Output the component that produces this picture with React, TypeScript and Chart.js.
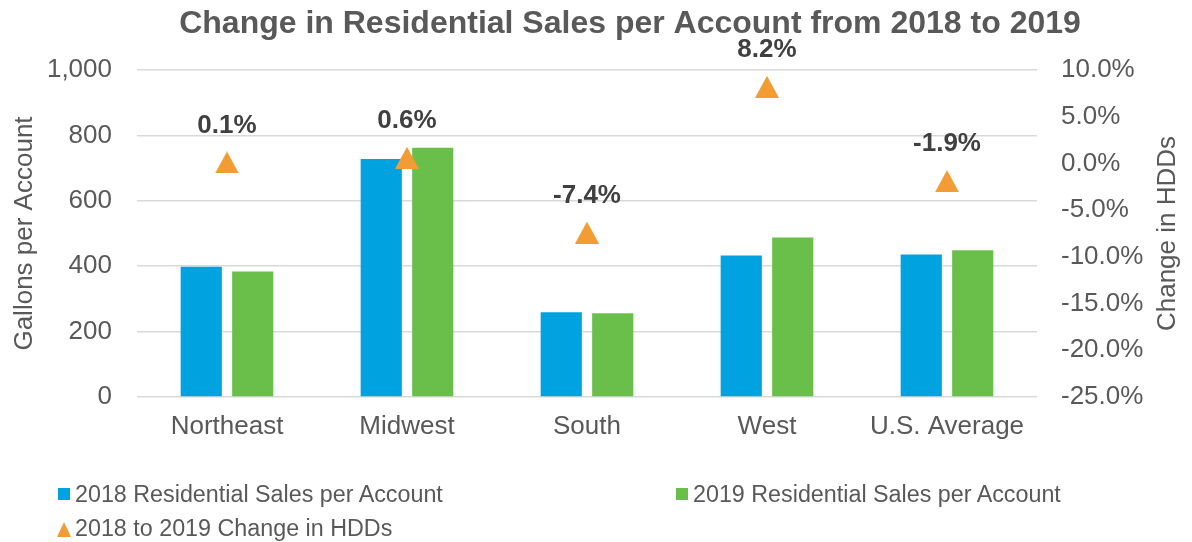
import React, { useEffect, useRef } from "react";
import { Chart, registerables } from "chart.js";

Chart.register(...registerables);

const chartTitle = "Change in Residential Sales per Account from 2018 to 2019";
const categories = ["Northeast", "Midwest", "South", "West", "U.S. Average"];
const sales2018 = [398, 728, 259, 433, 436];
const sales2019 = [384, 762, 256, 488, 449];
const hddChange = [0.1, 0.6, -7.4, 8.2, -1.9];
const seriesNames = [
  "2018 Residential Sales per Account",
  "2019 Residential Sales per Account",
  "2018 to 2019 Change in HDDs",
];
const leftAxisTitle = "Gallons per Account";
const rightAxisTitle = "Change in HDDs";

const BLUE = "#00A3E0";
const GREEN = "#6ABF4B";
const ORANGE = "#F39C34";
const TEXT = "#595959";
const FONT = "'Liberation Sans', Arial, sans-serif";

function makeTriangle(w: number, h: number): HTMLCanvasElement {
  const c = document.createElement("canvas");
  c.width = w;
  c.height = h;
  const ctx = c.getContext("2d")!;
  ctx.fillStyle = ORANGE;
  ctx.beginPath();
  ctx.moveTo(w / 2, 0);
  ctx.lineTo(w, h);
  ctx.lineTo(0, h);
  ctx.closePath();
  ctx.fill();
  return c;
}

const labelPlugin = {
  id: "triLabels",
  afterDatasetsDraw(chart: any) {
    const meta = chart.getDatasetMeta(2);
    const ctx = chart.ctx;
    const area = chart.chartArea;
    ctx.save();
    ctx.font = `bold 26px ${FONT}`;
    ctx.fillStyle = "#404040";
    ctx.textAlign = "center";
    ctx.textBaseline = "middle";
    meta.data.forEach((el: any, i: number) => {
      ctx.fillText(hddChange[i].toFixed(1) + "%", el.x, el.y - 37);
    });
    // chart title
    ctx.font = `bold 32px ${FONT}`;
    ctx.fillStyle = TEXT;
    ctx.fillText(chartTitle, 630, 24);
    // right axis title, reading bottom to top
    ctx.font = `26px ${FONT}`;
    ctx.translate(1168, (area.top + area.bottom) / 2);
    ctx.rotate(-Math.PI / 2);
    ctx.fillText(rightAxisTitle, 0, 0);
    ctx.restore();
  },
};

export default function App() {
  const ref = useRef<HTMLCanvasElement>(null);
  useEffect(() => {
    const tri = makeTriangle(24, 22);
    const chart = new Chart(ref.current!, {
      type: "bar",
      data: {
        labels: categories,
        datasets: [
          {
            type: "bar",
            label: seriesNames[0],
            data: sales2018,
            backgroundColor: BLUE,
            yAxisID: "y",
            categoryPercentage: 0.572,
            barPercentage: 0.8,
            order: 2,
          },
          {
            type: "bar",
            label: seriesNames[1],
            data: sales2019,
            backgroundColor: GREEN,
            yAxisID: "y",
            categoryPercentage: 0.572,
            barPercentage: 0.8,
            order: 2,
          },
          {
            type: "line",
            label: seriesNames[2],
            data: hddChange,
            yAxisID: "y2",
            showLine: false,
            pointStyle: tri as any,
            pointRadius: 12,
            backgroundColor: ORANGE,
            borderColor: ORANGE,
            order: 1,
          } as any,
        ],
      },
      options: {
        animation: false,
        responsive: false,
        maintainAspectRatio: false,
        layout: { padding: { left: 0, right: 0, top: 0, bottom: 95 } },
        plugins: {
          legend: { display: false },
          tooltip: { enabled: false },
          title: {
            display: true,
            text: "",
            color: TEXT,
            font: { family: FONT, size: 32, weight: "bold" },
            padding: { top: 5, bottom: 26.6 },
          },
        },
        scales: {
          x: {
            grid: { display: false, drawTicks: false },
            border: { display: false },
            ticks: { color: TEXT, font: { family: FONT, size: 26 }, padding: 14 },
            afterFit: (s: any) => {
              s.height = 50;
            },
          },
          y: {
            position: "left",
            min: 0,
            max: 1000,
            ticks: {
              stepSize: 200,
              color: TEXT,
              font: { family: FONT, size: 26 },
              padding: 25,
              callback: (v: any) => Number(v).toLocaleString("en-US"),
            },
            grid: { color: "#D9D9D9", lineWidth: 1.5, drawTicks: false },
            border: { display: false },
            title: {
              display: true,
              text: leftAxisTitle,
              color: TEXT,
              font: { family: FONT, size: 26 },
              padding: { top: 9, bottom: 0 },
            },
            afterFit: (s: any) => {
              s.width = 137;
            },
          },
          y2: {
            position: "right",
            min: -25,
            max: 10,
            ticks: {
              stepSize: 5,
              color: TEXT,
              font: { family: FONT, size: 26 },
              padding: 24,
              callback: (v: any) => Number(v).toFixed(1) + "%",
            },
            grid: { display: false, drawTicks: false },
            border: { display: false },
            title: { display: false },
            afterFit: (s: any) => {
              s.width = 155;
            },
          },
        },
      },
      plugins: [labelPlugin],
    });
    return () => chart.destroy();
  }, []);

  const legendText: React.CSSProperties = {
    position: "absolute",
    fontFamily: FONT,
    fontSize: 23.3,
    lineHeight: "26px",
    color: TEXT,
    whiteSpace: "nowrap",
  };

  return (
    <div style={{ position: "absolute", left: 0, top: 0, width: 1192, height: 542, background: "#fff" }}>
      <canvas ref={ref} width={1192} height={542} style={{ display: "block", width: 1192, height: 542 }} />
      <div style={{ position: "absolute", left: 58, top: 488, width: 12, height: 12, background: BLUE }} />
      <div style={{ ...legendText, left: 75, top: 481 }}>{seriesNames[0]}</div>
      <div style={{ position: "absolute", left: 676, top: 488, width: 12, height: 12, background: GREEN }} />
      <div style={{ ...legendText, left: 693, top: 481 }}>{seriesNames[1]}</div>
      <div
        style={{
          position: "absolute",
          left: 57,
          top: 522,
          width: 0,
          height: 0,
          borderLeft: "7.5px solid transparent",
          borderRight: "7.5px solid transparent",
          borderBottom: `15px solid ${ORANGE}`,
        }}
      />
      <div style={{ ...legendText, left: 75, top: 515 }}>{seriesNames[2]}</div>
    </div>
  );
}
